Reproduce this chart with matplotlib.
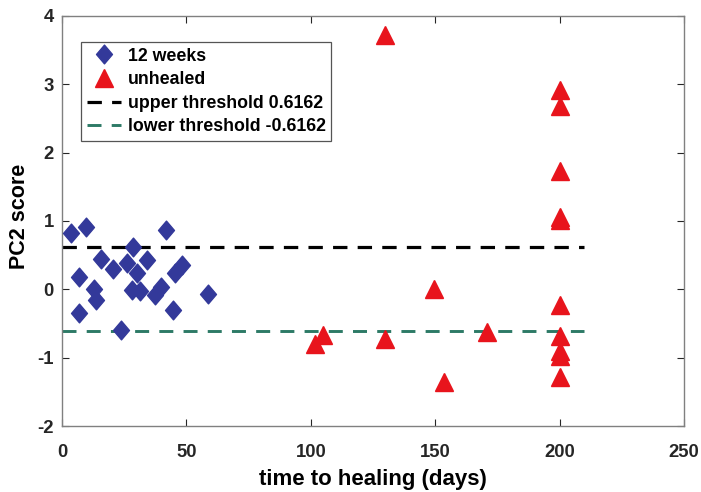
import matplotlib
matplotlib.use("Agg")
import matplotlib.pyplot as plt
from matplotlib.path import Path
import numpy as np

plt.rcParams['font.family'] = ['Liberation Sans', 'DejaVu Sans']
plt.rcParams['font.weight'] = 'bold'
plt.rcParams['axes.unicode_minus'] = False

# 12 weeks group (healed)
weeks_x = [3.5, 9.6, 15.7, 7.0, 12.9, 13.7, 6.8, 20.5, 26.0, 28.7, 30.2, 34.0,
           28.0, 31.2, 23.7, 37.5, 40.0, 41.8, 45.4, 48.3, 44.8, 58.8]
weeks_y = [0.82, 0.91, 0.44, 0.18, 0.01, -0.15, -0.34, 0.29, 0.38, 0.62, 0.24, 0.43,
           -0.01, -0.03, -0.59, -0.08, 0.03, 0.86, 0.24, 0.35, -0.31, -0.07]

# unhealed group
unhealed_x = [129.8, 200, 200, 200, 200, 200, 149.5, 200, 104.8, 101.7, 129.8,
              170.7, 200, 200, 200, 200, 153.5]
unhealed_y = [3.72, 2.91, 2.68, 1.73, 1.06, 1.01, 0.00, -0.23, -0.67, -0.80, -0.72,
              -0.63, -0.69, -0.90, -0.97, -1.28, -1.36]

upper_thr = 0.6162
lower_thr = -0.6162
thr_x = [0, 210]

xticks = [0, 50, 100, 150, 200, 250]
yticks = [-2, -1, 0, 1, 2, 3, 4]

diamond = Path([(0, 1), (0.85, 0), (0, -1), (-0.85, 0), (0, 1)],
               [Path.MOVETO, Path.LINETO, Path.LINETO, Path.LINETO, Path.CLOSEPOLY])

fig = plt.figure(figsize=(7.01, 4.92), dpi=100)
ax = fig.add_axes([0.0884, 0.134, 0.8873, 0.834])

ax.plot(weeks_x, weeks_y, linestyle='none', marker=diamond, markersize=13.5,
        color='#33399a', markeredgecolor='#33399a', label='12 weeks', zorder=3)
ax.plot(unhealed_x, unhealed_y, linestyle='none', marker='^', markersize=12.5,
        color='#e8141c', markeredgecolor='#e8141c', label='unhealed', zorder=3)
ax.plot(thr_x, [upper_thr, upper_thr], color='black', linewidth=2.3,
        dashes=(4.5, 3.2), label='upper threshold 0.6162', zorder=2)
ax.plot(thr_x, [lower_thr, lower_thr], color='#2d7a66', linewidth=2.1,
        dashes=(4.8, 3.5), label='lower threshold -0.6162', zorder=2)

ax.set_xlim(0, 250)
ax.set_ylim(-2, 4)
ax.set_xticks(xticks)
ax.set_yticks(yticks)
ax.tick_params(direction='in', top=True, right=True, length=5, width=0.8,
               labelsize=13.3, colors='#262626')
ax.tick_params(axis='x', pad=13)
ax.tick_params(axis='y', pad=6)
for lab in ax.get_xticklabels() + ax.get_yticklabels():
    lab.set_fontweight('bold')
for s in ax.spines.values():
    s.set_color('#808080')
    s.set_linewidth(1.0)

ax.set_xlabel('time to healing (days)', fontsize=16, fontweight='bold')
ax.xaxis.set_label_coords(0.5, -0.104)
ax.set_ylabel('PC2 score', fontsize=15.5, fontweight='bold')
ax.yaxis.set_label_coords(-0.051, 0.51)

leg = ax.legend(loc='upper left', bbox_to_anchor=(0.0305, 0.936), borderaxespad=0,
                fancybox=False, edgecolor='#555555', framealpha=1,
                handlelength=1.95, handletextpad=0.35, labelspacing=0.37,
                borderpad=0.32, numpoints=1, prop={'weight': 'bold', 'size': 12.8})
leg.get_frame().set_linewidth(0.9)

fig.savefig('out.png', dpi=100)
